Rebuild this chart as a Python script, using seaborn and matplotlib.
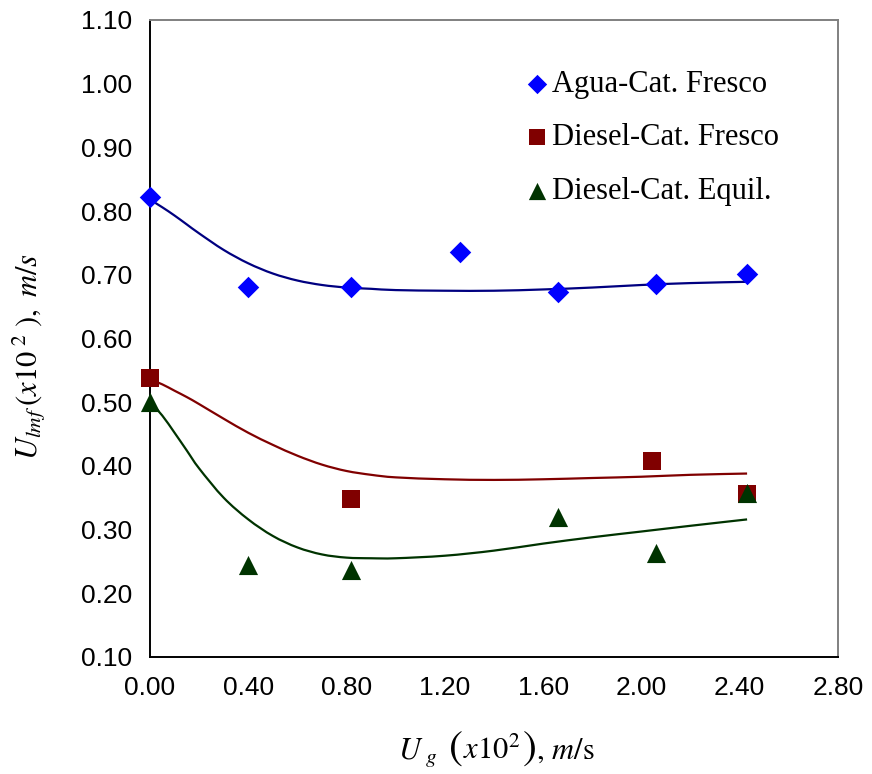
import numpy as np
import pandas as pd
import matplotlib
matplotlib.use("Agg")
import matplotlib.pyplot as plt
from matplotlib.path import Path
from matplotlib.patches import PathPatch
import seaborn as sns

# Measured minimum fluidization velocity vs gas velocity
ug_agua = [0.00, 0.40, 0.82, 1.26, 1.66, 2.06, 2.43]
ul_agua = [0.822, 0.681, 0.681, 0.736, 0.673, 0.686, 0.701]

ug_dfresco = [0.00, 0.82, 2.045, 2.43]
ul_dfresco = [0.538, 0.348, 0.407, 0.356]

ug_dequil = [0.00, 0.40, 0.82, 1.66, 2.06, 2.43]
ul_dequil = [0.501, 0.245, 0.237, 0.319, 0.264, 0.358]

# Trend curves for each series (drawn as smoothed lines)
trend_x = [0.0, 0.05, 0.1, 0.15, 0.2, 0.3, 0.4, 0.5, 0.6, 0.7, 0.8, 0.9, 1.0,
           1.2, 1.4, 1.6, 1.8, 2.0, 2.2, 2.43]
trend_agua = [0.818, 0.806, 0.793, 0.779, 0.765, 0.739, 0.718, 0.702, 0.691,
              0.684, 0.680, 0.678, 0.676, 0.675, 0.675, 0.677, 0.680, 0.684,
              0.687, 0.689]
trend_dfresco = [0.536, 0.528, 0.518, 0.508, 0.497, 0.474, 0.452, 0.433,
                 0.416, 0.402, 0.392, 0.386, 0.382, 0.379, 0.378, 0.379,
                 0.381, 0.383, 0.386, 0.388]
trend_dequil = [0.501, 0.479, 0.452, 0.424, 0.396, 0.350, 0.316, 0.290,
                0.272, 0.261, 0.256, 0.255, 0.255, 0.259, 0.267, 0.278,
                0.288, 0.297, 0.306, 0.316]

labels = ["Agua-Cat. Fresco", "Diesel-Cat. Fresco", "Diesel-Cat. Equil."]
marker_colors = ["#0000FF", "#800000", "#003300"]
line_colors = ["#000080", "#800000", "#003300"]
markers = ["D", "s", "^"]
marker_sizes = [120, 150, 190]

sns.set_style("white")
plt.rcParams["font.family"] = ["Liberation Sans", "DejaVu Sans"]
plt.rcParams["mathtext.fontset"] = "stix"
plt.rcParams["text.color"] = "black"
plt.rcParams["xtick.color"] = "black"
plt.rcParams["ytick.color"] = "black"

W, H = 872, 774
fig = plt.figure(figsize=(W / 100, H / 100), dpi=100)
ax = fig.add_axes([150 / W, 1 - 657 / H, 688 / W, 637 / H])


def smooth_path(xs, ys):
    """Catmull-Rom curve through the given points, as cubic Bezier segments."""
    p = np.column_stack([xs, ys]).astype(float)
    verts = [p[0]]
    codes = [Path.MOVETO]
    n = len(p)
    for i in range(n - 1):
        p0 = p[i - 1] if i > 0 else p[i]
        p1, p2 = p[i], p[i + 1]
        p3 = p[i + 2] if i + 2 < n else p[i + 1]
        verts += [p1 + (p2 - p0) / 6.0, p2 - (p3 - p1) / 6.0, p2]
        codes += [Path.CURVE4] * 3
    return Path(verts, codes)


pts = [(ug_agua, ul_agua), (ug_dfresco, ul_dfresco), (ug_dequil, ul_dequil)]
trends = [trend_agua, trend_dfresco, trend_dequil]

for (xs, ys), tr, lab, mc, lc, mk, ms in zip(pts, trends, labels, marker_colors,
                                             line_colors, markers, marker_sizes):
    ax.add_patch(PathPatch(smooth_path(trend_x, tr), facecolor="none",
                           edgecolor=lc, linewidth=1.6, zorder=2))
    df = pd.DataFrame({"x": xs, "y": ys})
    sns.scatterplot(data=df, x="x", y="y", ax=ax, marker=mk, s=ms, color=mc,
                    edgecolor=mc, linewidth=0, label=lab, zorder=3,
                    clip_on=False)

ax.set_xlim(0, 2.80)
ax.set_ylim(0.10, 1.10)
ax.set_xticks(np.arange(0, 2.81, 0.40))
ax.set_yticks(np.arange(0.10, 1.101, 0.10))
ax.xaxis.set_major_formatter(matplotlib.ticker.FormatStrFormatter("%.2f"))
ax.yaxis.set_major_formatter(matplotlib.ticker.FormatStrFormatter("%.2f"))
ax.tick_params(axis="both", which="major", labelsize=19, length=6,
               width=1.2, color="black", labelcolor="black", direction="out")
ax.tick_params(axis="x", pad=8)
ax.tick_params(axis="y", pad=7)
ax.set_xlabel("")
ax.set_ylabel("")

for side in ["left", "bottom"]:
    ax.spines[side].set_color("black")
    ax.spines[side].set_linewidth(1.4)
for side in ["top", "right"]:
    ax.spines[side].set_color("#808080")
    ax.spines[side].set_linewidth(1.4)

leg = ax.legend(loc="upper left", bbox_to_anchor=(0.545, 0.922), frameon=False,
                prop={"family": "Liberation Serif", "size": 22},
                handletextpad=0.1, labelspacing=0.80, borderaxespad=0,
                borderpad=0, handlelength=0.8, markerscale=0.9)

# Y axis title
fig.text(29 / W, 1 - 357 / H,
         r"$U_{lmf}\,(x\mathit{10}^{\ 2}\ ),\ m/s$",
         rotation=90, ha="center", va="center", fontsize=22)

# X axis title, assembled piece by piece so the parentheses can be tall;
# each piece carries the gap (pixels) that follows it
renderer = fig.canvas.get_renderer()
pieces = [
    (r"$U_{\ g}$", 22, 11),
    (r"$($", 30, 1),
    (r"$x10^{2}$", 22, 1),
    (r"$)$", 30, 0),
    (r"$,\,m/\mathrm{s}$", 22, 0),
]
baseline_y = 1 - 759 / H
texts = []
x_cursor = 0.0
for s, size, gap in pieces:
    t = fig.text(x_cursor, baseline_y, s, fontsize=size, va="baseline",
                 ha="left")
    bb = t.get_window_extent(renderer)
    texts.append(t)
    x_cursor += (bb.width + gap) / W
shift = 496 / W - x_cursor / 2
for t in texts:
    x0, y0 = t.get_position()
    t.set_position((x0 + shift, y0))

fig.savefig("out.png", dpi=100, facecolor="white")
